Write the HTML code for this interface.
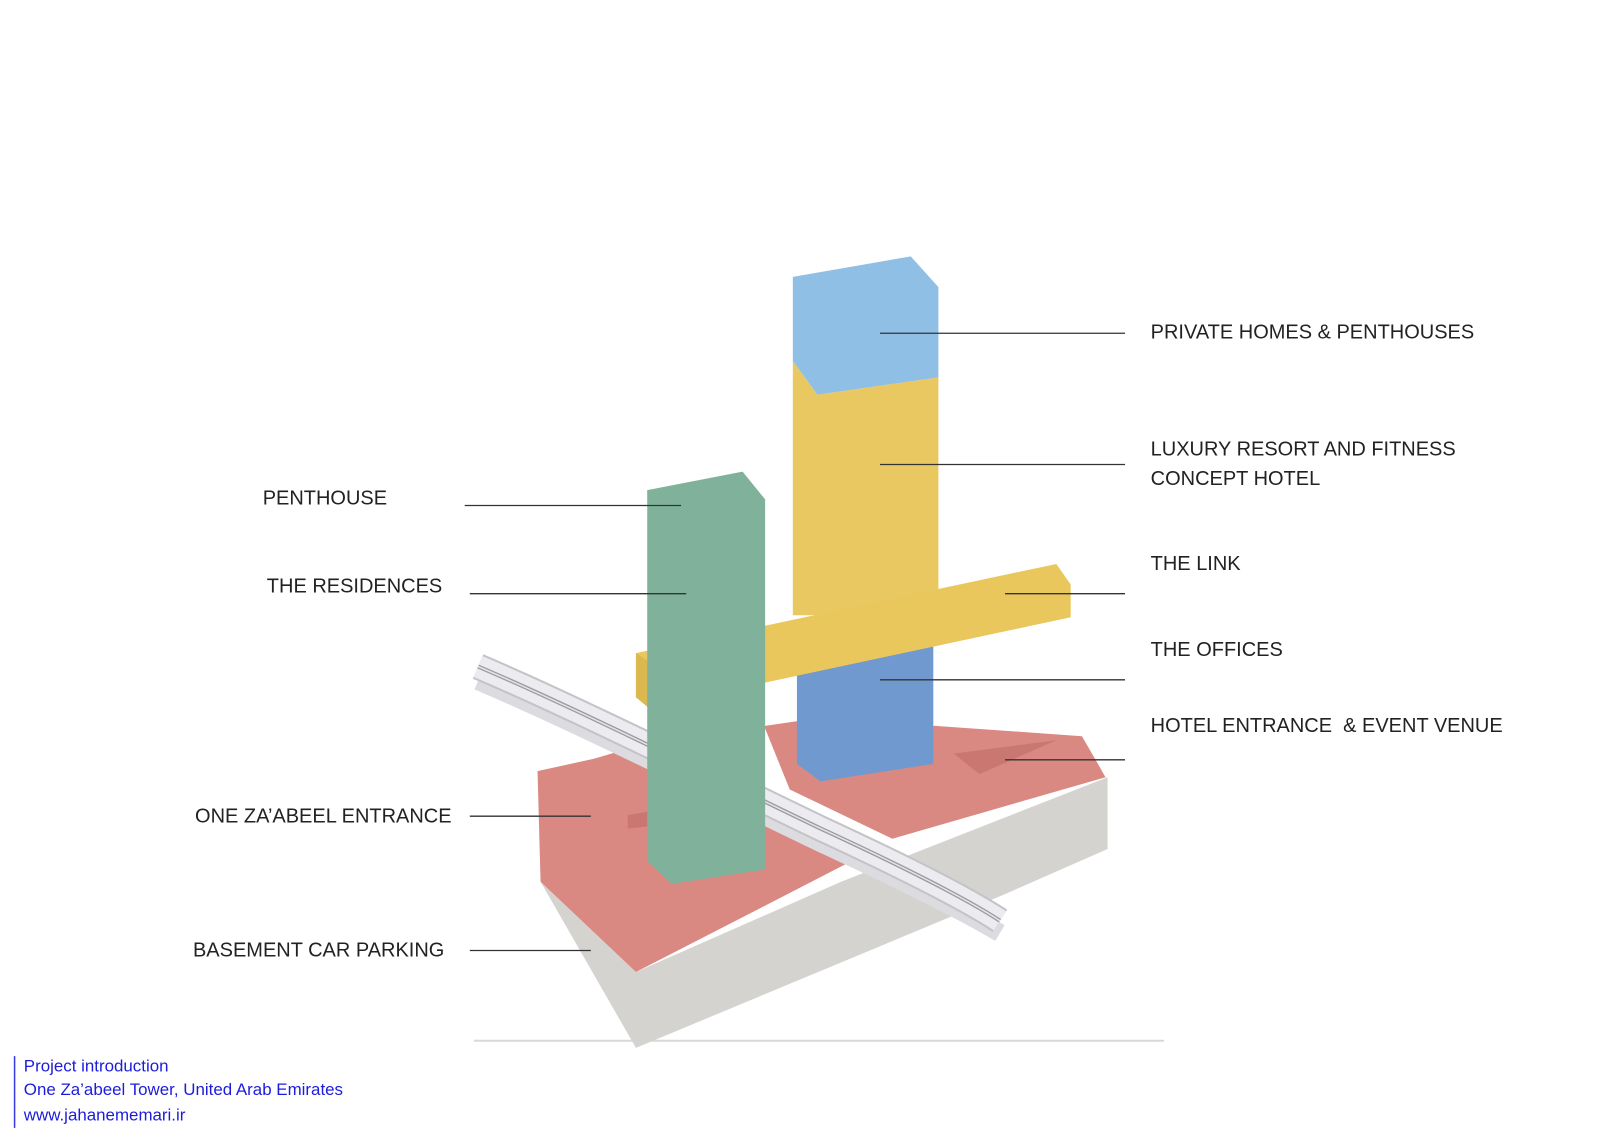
<!DOCTYPE html>
<html><head><meta charset="utf-8"><style>
html,body{margin:0;padding:0;background:#fff;width:1600px;height:1132px;overflow:hidden}
svg{display:block}
text{font-family:"Liberation Sans",sans-serif}
</style></head><body>
<svg width="1600" height="1132" viewBox="0 0 1560 1104" xmlns="http://www.w3.org/2000/svg">
<rect width="1560" height="1104" fill="#fff"/>
<line x1="462" y1="1015" x2="1135" y2="1015" stroke="#d8d8d8" stroke-width="2"/>
<polygon points="527,860 620,948 820,860 1080,758 1080,828 980,872 620,1022" fill="#d5d3d0"/>
<polygon points="745,708 800,700 1055,718 1078,758 870,818 770,770" fill="#d98982"/>
<polygon points="930,735 1030,722 955,755" fill="#c97770"/>
<polygon points="524,752 579,740 640,722 830,840 620,948 527,860" fill="#d98982"/>
<polygon points="612,795 640,790 640,805 612,808" fill="#c97770"/>
<!-- road -->
<path d="M466,664 C560,704 700,774 800,822 C880,859 940,889 975,910" fill="none" stroke="#dcdce0" stroke-width="18"/>
<path d="M466,650 C560,690 700,760 800,808 C880,845 940,875 975,898" fill="none" stroke="#c4c4c8" stroke-width="26"/>
<path d="M466,650 C560,690 700,760 800,808 C880,845 940,875 975,898" fill="none" stroke="#ececf0" stroke-width="22"/>
<path d="M466,650 C560,690 700,760 800,808 C880,845 940,875 975,898" fill="none" stroke="#9a9aa0" stroke-width="4"/>
<path d="M466,650 C560,690 700,760 800,808 C880,845 940,875 975,898" fill="none" stroke="#e4e4e8" stroke-width="1.5"/>
<polygon points="777,628 910,620 910,745 800,762 777,745" fill="#6f99cf"/>
<polygon points="773,352 797,385 915,368 915,580 800,600 773,600" fill="#e9c862"/>
<polygon points="773,270 888,250 915,280 915,368 797,385 773,352" fill="#8fbfe5"/>
<polygon points="620,637 1030,550 1044,570 1044,602 632,690 620,680" fill="#e9c75c"/>
<polygon points="620,637 632,645 632,690 620,680" fill="#dcb850"/>
<polygon points="631,478 724,460 746,487 746,848 655,862 631,840" fill="#80b29b"/>
<g stroke="#333" stroke-width="1.3">
<line x1="858" y1="325" x2="1097" y2="325"/>
<line x1="858" y1="453" x2="1097" y2="453"/>
<line x1="980" y1="579" x2="1097" y2="579"/>
<line x1="858" y1="663" x2="1097" y2="663"/>
<line x1="980" y1="741" x2="1097" y2="741"/>
<line x1="453" y1="493" x2="664" y2="493"/>
<line x1="458" y1="579" x2="669" y2="579"/>
<line x1="458" y1="796" x2="576" y2="796"/>
<line x1="458" y1="927" x2="576" y2="927"/>
</g>
<g font-size="19.5" fill="#222">
<text x="1122" y="330">PRIVATE HOMES &amp; PENTHOUSES</text>
<text x="1122" y="444">LUXURY RESORT AND FITNESS</text>
<text x="1122" y="473">CONCEPT HOTEL</text>
<text x="1122" y="556">THE LINK</text>
<text x="1122" y="640">THE OFFICES</text>
<text x="1122" y="714">HOTEL ENTRANCE &#160;&amp; EVENT VENUE</text>
<text x="256" y="492">PENTHOUSE</text>
<text x="260" y="578">THE RESIDENCES</text>
<text x="190" y="802">ONE ZA’ABEEL ENTRANCE</text>
<text x="188" y="933">BASEMENT CAR PARKING</text>
</g>
<line x1="14" y1="1030" x2="14" y2="1100" stroke="#3a3ae0" stroke-width="1.5"/>
<g font-size="16.5" fill="#1c1cdc">
<text x="23" y="1045">Project introduction</text>
<text x="23" y="1068">One Za’abeel Tower, United Arab Emirates</text>
<text x="23" y="1093">www.jahanememari.ir</text>
</g>
</svg>
</body></html>
